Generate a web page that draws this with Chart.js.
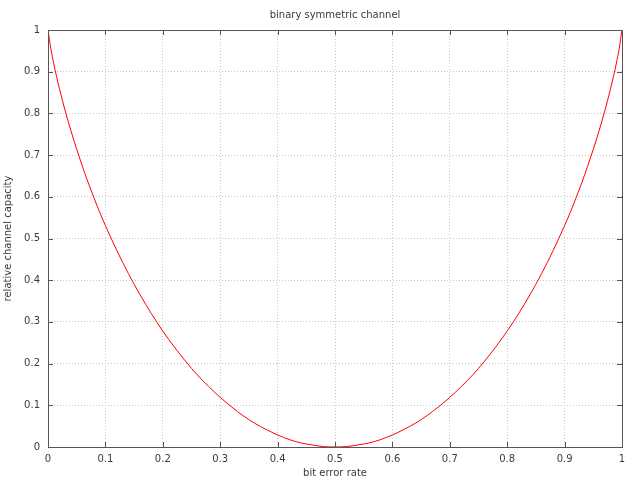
<!DOCTYPE html>
<html>
<head>
<meta charset="utf-8">
<script src="https://cdn.jsdelivr.net/npm/chart.js@4/dist/chart.umd.min.js"></script>
<style>
  html, body { margin: 0; padding: 0; background: #fff; }
  #wrap { width: 640px; height: 480px; }
</style>
</head>
<body>
<div id="wrap"><canvas id="chart"></canvas></div>
<script>
// bit error rate (x) and relative channel capacity (y)
const errorRate = [
  0, 0.005, 0.01, 0.02, 0.03, 0.04, 0.05, 0.06, 0.07, 0.08, 0.09, 0.10,
  0.12, 0.14, 0.16, 0.18, 0.20, 0.22, 0.24, 0.26, 0.28, 0.30,
  0.32, 0.34, 0.36, 0.38, 0.40, 0.42, 0.44, 0.46, 0.48, 0.50,
  0.52, 0.54, 0.56, 0.58, 0.60, 0.62, 0.64, 0.66, 0.68, 0.70,
  0.72, 0.74, 0.76, 0.78, 0.80, 0.82, 0.84, 0.86, 0.88, 0.90,
  0.91, 0.92, 0.93, 0.94, 0.95, 0.96, 0.97, 0.98, 0.99, 0.995, 1
];
const capacity = [
  1, 0.955, 0.919, 0.859, 0.806, 0.758, 0.714, 0.673, 0.634, 0.598, 0.563, 0.531,
  0.471, 0.416, 0.366, 0.320, 0.278, 0.240, 0.205, 0.173, 0.145, 0.119,
  0.096, 0.075, 0.057, 0.042, 0.029, 0.018, 0.010, 0.005, 0.001, 0,
  0.001, 0.005, 0.010, 0.018, 0.029, 0.042, 0.057, 0.075, 0.096, 0.119,
  0.145, 0.173, 0.205, 0.240, 0.278, 0.320, 0.366, 0.416, 0.471, 0.531,
  0.563, 0.598, 0.634, 0.673, 0.714, 0.758, 0.806, 0.859, 0.919, 0.955, 1
];
const xTicks = [0, 0.1, 0.2, 0.3, 0.4, 0.5, 0.6, 0.7, 0.8, 0.9, 1];
const yTicks = [0, 0.1, 0.2, 0.3, 0.4, 0.5, 0.6, 0.7, 0.8, 0.9, 1];

const FONT = 'DejaVu Sans';
const TEXT = '#3a3a3a';
const BORDER = '#555';

// gnuplot-style frame with inward ticks on all four sides
const framePlugin = {
  id: 'frame',
  afterDatasetsDraw(chart) {
    const { ctx, chartArea: a, scales } = chart;
    ctx.save();
    ctx.strokeStyle = BORDER;
    ctx.lineWidth = 1;
    ctx.strokeRect(a.left + 0.5, a.top + 0.5, a.right - a.left, a.bottom - a.top);
    ctx.beginPath();
    xTicks.forEach((v) => {
      const px = Math.round(scales.x.getPixelForValue(v)) + 0.5;
      ctx.moveTo(px, a.bottom); ctx.lineTo(px, a.bottom - 5);
      ctx.moveTo(px, a.top); ctx.lineTo(px, a.top + 5);
    });
    yTicks.forEach((v) => {
      const py = Math.round(scales.y.getPixelForValue(v)) + 0.5;
      ctx.moveTo(a.left, py); ctx.lineTo(a.left + 5, py);
      ctx.moveTo(a.right, py); ctx.lineTo(a.right - 5, py);
    });
    ctx.stroke();
    ctx.restore();
  },
};

new Chart(document.getElementById('chart'), {
  type: 'scatter',
  data: {
    datasets: [{
      data: errorRate.map((x, i) => ({ x, y: capacity[i] })),
      showLine: true,
      borderColor: '#ff0000',
      borderWidth: 1,
      pointRadius: 0,
      cubicInterpolationMode: 'monotone',
    }],
  },
  options: {
    responsive: true,
    maintainAspectRatio: false,
    animation: false,
    layout: { padding: { left: 0, right: 18, top: 0, bottom: 0 } },
    plugins: {
      legend: { display: false },
      tooltip: { enabled: false },
    },
    scales: {
      x: {
        type: 'linear',
        min: 0,
        max: 1,
        afterBuildTicks(scale) { scale.ticks = xTicks.map((value) => ({ value })); },
        afterFit(scale) { scale.height = 33; },
        grid: { color: '#c8c8c8', lineWidth: 1, drawTicks: false },
        border: { display: false, dash: [1, 2] },
        ticks: {
          color: TEXT,
          font: { family: FONT, size: 10 },
          padding: 6,
          maxRotation: 0,
          callback: (v) => String(v),
        },
        title: {
          display: true,
          text: 'bit error rate',
          color: TEXT,
          font: { family: FONT, size: 10 },
          padding: { top: 2, bottom: 1 },
        },
      },
      // top axis only carries the chart title so it centres over the plot area
      top: {
        type: 'linear',
        position: 'top',
        min: 0,
        max: 1,
        afterFit(scale) { scale.height = 30; },
        grid: { display: false, drawTicks: false },
        border: { display: false },
        ticks: { display: false },
        title: {
          display: true,
          text: 'binary symmetric channel',
          color: TEXT,
          font: { family: FONT, size: 10 },
          padding: { top: 9, bottom: 0 },
        },
      },
      y: {
        min: 0,
        max: 1,
        afterBuildTicks(scale) { scale.ticks = yTicks.map((value) => ({ value })); },
        afterFit(scale) { scale.width = 48; },
        grid: { color: '#c8c8c8', lineWidth: 1, drawTicks: false },
        border: { display: false, dash: [1, 2] },
        ticks: {
          color: TEXT,
          font: { family: FONT, size: 10 },
          padding: 8,
          callback: (v) => String(v),
        },
        title: {
          display: true,
          text: 'relative channel capacity',
          color: TEXT,
          font: { family: FONT, size: 10 },
          padding: { top: 2, bottom: 0 },
        },
      },
    },
  },
  plugins: [framePlugin],
});
</script>
</body>
</html>
